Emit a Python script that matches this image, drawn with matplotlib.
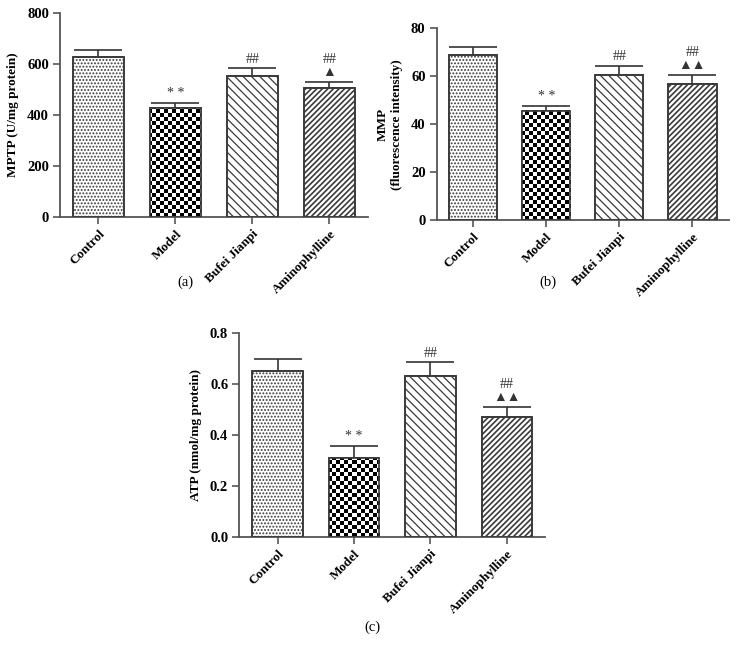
import numpy as np
import matplotlib
matplotlib.use("Agg")
import matplotlib.pyplot as plt

plt.rcParams['font.family'] = ['Liberation Serif', 'DejaVu Sans']
plt.rcParams['hatch.linewidth'] = 0.9

groups = ["Control", "Model", "Bufei Jianpi", "Aminophylline"]

mptp_mean = [627, 426, 552, 507]
mptp_err = [27, 22, 31, 22]
mptp_marks = ["", "* *", "##", "##\n\u25B2"]

mmp_mean = [68.9, 45.5, 60.5, 56.9]
mmp_err = [3.4, 2.2, 3.8, 3.8]
mmp_marks = ["", "* *", "##", "##\n\u25B2\u25B2"]

atp_mean = [0.652, 0.311, 0.632, 0.472]
atp_err = [0.048, 0.046, 0.053, 0.038]
atp_marks = ["", "* *", "##", "##\n\u25B2\u25B2"]

EDGE = '#3a3a3a'
AXC = '#555555'

fig = plt.figure(figsize=(7.38, 6.52), dpi=100)


def checker(ax, bar, cell_px=4.0):
    """ Fill a bar with a black/white checkerboard clipped to the bar """
    fig.canvas.draw()
    bb = ax.get_window_extent()
    nx = int(round(bb.width / cell_px))
    ny = int(round(bb.height / cell_px))
    yy, xx = np.mgrid[0:ny, 0:nx]
    img = ((xx + yy) % 2).astype(float)
    x0, x1 = ax.get_xlim()
    y0, y1 = ax.get_ylim()
    im = ax.imshow(img, cmap='gray', extent=(x0, x1, y0, y1), aspect='auto',
                   interpolation='nearest', zorder=2.5, origin='lower')
    im.set_clip_path(bar)
    ax.set_xlim(x0, x1)
    ax.set_ylim(y0, y1)


def panel(rect, means, errs, marks, ylim, yticks, fmt, ylabel, caption, cap_xy):
    ax = fig.add_axes(rect)
    x = np.arange(len(groups))
    hatches = ['.....', '', '\\\\\\\\', '//////']
    bars = ax.bar(x, means, width=0.66, color='white', edgecolor=EDGE,
                  linewidth=1.2, zorder=2)
    for b, h in zip(bars, hatches):
        b.set_hatch(h)
    if hasattr(bars[3], 'set_hatch_linewidth'):
        bars[3].set_hatch_linewidth(1.2)
    ax.errorbar(x, means, yerr=[np.zeros(len(x)), errs], fmt='none',
                ecolor='#333333', elinewidth=1.2, capsize=17, capthick=1.2, zorder=1)
    ax.set_xlim(-0.5, 3.5)
    ax.set_ylim(*ylim)
    checker(ax, bars[1])
    # outline on top of the checkerboard
    ax.bar(x, means, width=0.66, fill=False, edgecolor=EDGE, linewidth=1.2, zorder=3)

    for xi, m, e, t in zip(x, means, errs, marks):
        if t:
            ax.annotate(t, (xi, m + e), xytext=(0, 2), textcoords='offset points',
                        ha='center', va='bottom', fontsize=10, color='#333333',
                        linespacing=1.0)

    ax.set_yticks(yticks)
    ax.set_yticklabels([fmt.format(v) for v in yticks], fontsize=10.5, fontweight='bold')
    ax.set_xticks(x)
    ax.set_xticklabels(groups, rotation=45, ha='right', rotation_mode='anchor',
                       fontsize=9.5, fontweight='bold')
    ax.set_ylabel(ylabel, fontsize=9.5, fontweight='bold', labelpad=6)
    for s in ['top', 'right']:
        ax.spines[s].set_visible(False)
    for s in ['left', 'bottom']:
        ax.spines[s].set_color(AXC)
        ax.spines[s].set_linewidth(1.3)
    ax.tick_params(axis='both', direction='out', length=5, width=1.2, color=AXC,
                   pad=3)
    fig.text(cap_xy[0], cap_xy[1], caption, ha='center', va='center', fontsize=10.5)
    return ax


panel([0.0813, 0.6677, 0.4173, 0.312], mptp_mean, mptp_err, mptp_marks,
      (0, 800), [0, 200, 400, 600, 800], "{:.0f}", "MPTP (U/mg protein)",
      "(a)", (185 / 738, 1 - 282 / 652))
panel([0.5917, 0.6626, 0.396, 0.294], mmp_mean, mmp_err, mmp_marks,
      (0, 80), [0, 20, 40, 60, 80], "{:.0f}", "MMP\n(fluorescence intensity)",
      "(b)", (548 / 738, 1 - 282 / 652))
panel([0.3243, 0.1769, 0.4142, 0.312], atp_mean, atp_err, atp_marks,
      (0, 0.8), [0.0, 0.2, 0.4, 0.6, 0.8], "{:.1f}", "ATP (nmol/mg protein)",
      "(c)", (372 / 738, 1 - 627 / 652))

fig.savefig("out.png", dpi=100)
